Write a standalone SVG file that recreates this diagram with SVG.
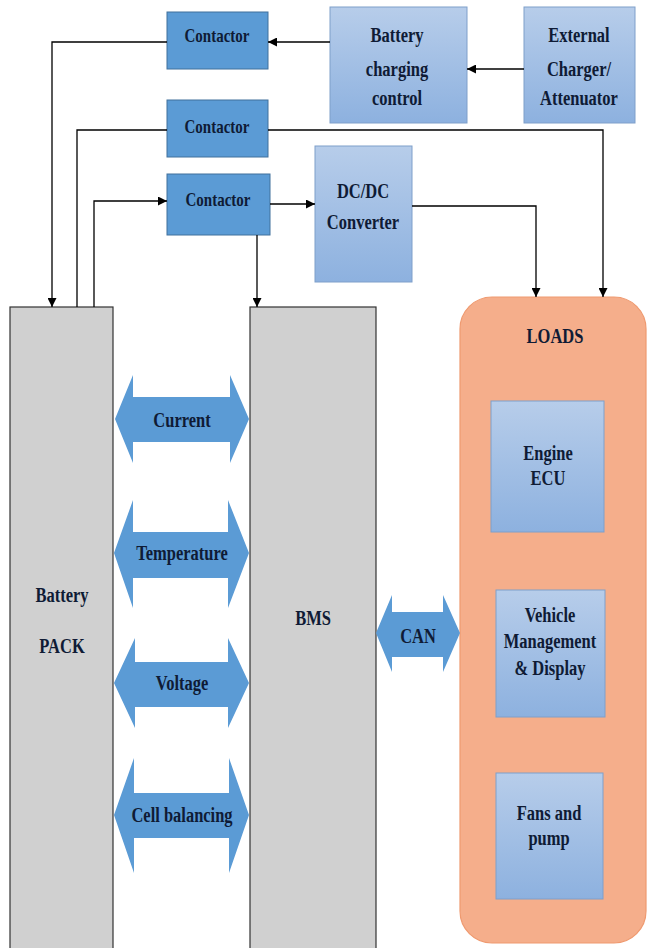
<svg xmlns="http://www.w3.org/2000/svg" width="649" height="948" viewBox="0 0 649 948">
<defs>
<linearGradient id="lb" x1="0" y1="0" x2="0" y2="1">
<stop offset="0" stop-color="#b7cdea"/>
<stop offset="1" stop-color="#8db1df"/>
</linearGradient>
<marker id="ah" viewBox="0 0 10 10" refX="10" refY="5" markerWidth="9" markerHeight="9" markerUnits="userSpaceOnUse" orient="auto">
<path d="M0,0 L10,5 L0,10 Z" fill="#000"/>
</marker>
</defs>
<style>
.t{font-family:"Liberation Serif","Times New Roman",serif;font-weight:bold;font-size:16.5px;fill:#0f1b35;text-anchor:middle}
.ct{fill:#5b9bd5;stroke:#41719c;stroke-width:1}
.lb{fill:url(#lb);stroke:#7f9fca;stroke-width:1}
.gr{fill:#d0d0d0;stroke:#333;stroke-width:1.2}
.da{fill:#5b9bd5}
.ln{fill:none;stroke:#000;stroke-width:1.3}
</style>
<rect width="649" height="948" fill="#fff"/>

<g id="battery-pack">
<rect class="gr" x="10" y="307" width="103" height="645"/>
<text class="t" transform="translate(62,602) scale(1,1.25)">Battery</text>
<text class="t" transform="translate(62,653) scale(1,1.25)">PACK</text>
</g>
<g id="bms">
<rect class="gr" x="250" y="307" width="126" height="645"/>
<text class="t" transform="translate(313,625) scale(1,1.25)">BMS</text>
</g>

<g id="contactor1">
<rect class="ct" x="167" y="12" width="101" height="57"/>
<text class="t" style="font-size:15px" transform="translate(217,42) scale(1,1.25)">Contactor</text>
</g>
<g id="contactor2">
<rect class="ct" x="167" y="100" width="101" height="57"/>
<text class="t" style="font-size:15px" transform="translate(217,133) scale(1,1.25)">Contactor</text>
</g>
<g id="contactor3">
<rect class="ct" x="167" y="174" width="103" height="61"/>
<text class="t" style="font-size:15px" transform="translate(218,206) scale(1,1.25)">Contactor</text>
</g>

<g id="battery-charging-control">
<rect class="lb" x="330" y="7" width="137" height="116"/>
<text class="t" transform="translate(397,42) scale(1,1.25)">Battery</text>
<text class="t" transform="translate(397,76) scale(1,1.25)">charging</text>
<text class="t" transform="translate(397,105) scale(1,1.25)">control</text>
</g>
<g id="external-charger">
<rect class="lb" x="524" y="7" width="111" height="116"/>
<text class="t" transform="translate(579,42) scale(1,1.25)">External</text>
<text class="t" transform="translate(579,76) scale(1,1.25)">Charger/</text>
<text class="t" transform="translate(579,105) scale(1,1.25)">Attenuator</text>
</g>
<g id="dcdc-converter">
<rect class="lb" x="315" y="146" width="97" height="136"/>
<text class="t" transform="translate(363,198) scale(1,1.25)">DC/DC</text>
<text class="t" transform="translate(363,229) scale(1,1.25)">Converter</text>
</g>

<g id="loads">
<rect x="460" y="297" width="186" height="646" rx="32" ry="32" fill="#f5ae8b" stroke="#ef9a70" stroke-width="1.2"/>
<text class="t" transform="translate(555,343) scale(1,1.25)">LOADS</text>
</g>
<g id="engine-ecu">
<rect class="lb" x="491" y="401" width="113" height="131"/>
<text class="t" transform="translate(548,460) scale(1,1.25)">Engine</text>
<text class="t" transform="translate(548,485) scale(1,1.25)">ECU</text>
</g>
<g id="vehicle-management">
<rect class="lb" x="496" y="590" width="109" height="127"/>
<text class="t" transform="translate(550,622) scale(1,1.25)">Vehicle</text>
<text class="t" transform="translate(550,648) scale(1,1.25)">Management</text>
<text class="t" transform="translate(550,675) scale(1,1.25)">&amp; Display</text>
</g>
<g id="fans-pump">
<rect class="lb" x="496" y="773" width="107" height="126"/>
<text class="t" transform="translate(549,820) scale(1,1.25)">Fans and</text>
<text class="t" transform="translate(549,845) scale(1,1.25)">pump</text>
</g>

<g id="signal-current">
<polygon class="da" points="115,419 133,375 133,397 230,397 230,375 249,419 230,463 230,442 133,442 133,463"/>
<text class="t" transform="translate(182,427) scale(1,1.25)">Current</text>
</g>
<g id="signal-temperature">
<polygon class="da" points="114,553 133,500 133,532 228,532 228,500 249,553 228,608 228,578 133,578 133,608"/>
<text class="t" transform="translate(182,560) scale(1,1.25)">Temperature</text>
</g>
<g id="signal-voltage">
<polygon class="da" points="114,683 135,638 135,662 228,662 228,638 249,683 228,728 228,707 135,707 135,728"/>
<text class="t" transform="translate(182,690) scale(1,1.25)">Voltage</text>
</g>
<g id="signal-cell-balancing">
<polygon class="da" points="114,815 134,758 134,793 229,793 229,758 249,815 229,873 229,838 134,838 134,873"/>
<text class="t" transform="translate(182,822) scale(1,1.25)">Cell balancing</text>
</g>
<g id="signal-can">
<polygon class="da" points="376,633 392,595 392,612 443,612 443,595 460,633 443,672 443,657 392,657 392,672"/>
<text class="t" transform="translate(418,643) scale(1,1.25)">CAN</text>
</g>

<g id="connectors">
<path class="ln" d="M524,69 H467" marker-end="url(#ah)"/>
<path class="ln" d="M330,42 H268" marker-end="url(#ah)"/>
<path class="ln" d="M167,42 H52 V307" marker-end="url(#ah)"/>
<path class="ln" d="M167,130 H77 V307"/>
<path class="ln" d="M268,130 H603 V297" marker-end="url(#ah)"/>
<path class="ln" d="M94,307 V201 H167" marker-end="url(#ah)"/>
<path class="ln" d="M270,204 H315" marker-end="url(#ah)"/>
<path class="ln" d="M257,235 V307" marker-end="url(#ah)"/>
<path class="ln" d="M412,206 H536 V297" marker-end="url(#ah)"/>
</g>
</svg>
